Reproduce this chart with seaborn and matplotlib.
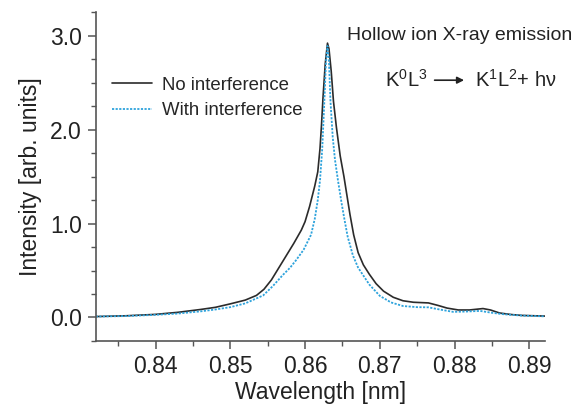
import numpy as np
import pandas as pd
import matplotlib
matplotlib.use("Agg")
import matplotlib.pyplot as plt
from matplotlib.ticker import MultipleLocator
import seaborn as sns

# spectra
wl_no = [0.832, 0.836, 0.840, 0.843, 0.846, 0.848, 0.850, 0.852, 0.8535, 0.8545,
         0.8555, 0.8565, 0.8575, 0.8585, 0.8595, 0.8600, 0.8606, 0.8613, 0.8617, 0.8620,
         0.8622, 0.8624, 0.8627, 0.8630, 0.8632, 0.8635, 0.8638, 0.8642, 0.8647, 0.8652,
         0.8656, 0.8660, 0.8665, 0.8671, 0.8678, 0.8686, 0.8695, 0.8705, 0.8718, 0.8731,
         0.8745, 0.8765, 0.8778, 0.8790, 0.8805, 0.8820, 0.8838, 0.8848, 0.8860, 0.8875,
         0.8890, 0.8921]
int_no = [0.010, 0.018, 0.033, 0.055, 0.085, 0.108, 0.145, 0.185, 0.235, 0.300,
          0.400, 0.530, 0.660, 0.790, 0.930, 1.020, 1.180, 1.400, 1.550, 1.800,
          2.050, 2.340, 2.700, 2.920, 2.860, 2.620, 2.300, 2.020, 1.720, 1.500,
          1.300, 1.100, 0.880, 0.690, 0.560, 0.460, 0.360, 0.280, 0.215, 0.178,
          0.162, 0.155, 0.128, 0.100, 0.080, 0.080, 0.095, 0.080, 0.048, 0.032,
          0.022, 0.015]

wl_with = [0.832, 0.836, 0.840, 0.843, 0.846, 0.848, 0.850, 0.852, 0.8544, 0.8557,
           0.8570, 0.8580, 0.8588, 0.8598, 0.8608, 0.8613, 0.8617, 0.8620, 0.8623, 0.8626,
           0.8628, 0.8630, 0.8632, 0.8634, 0.8637, 0.8640, 0.8644, 0.8649, 0.8653, 0.8657,
           0.8664, 0.8671, 0.8686, 0.8700, 0.8715, 0.8731, 0.8750, 0.8765, 0.8780, 0.8798,
           0.8815, 0.8834, 0.8850, 0.8865, 0.8890, 0.8921]
int_with = [0.010, 0.015, 0.028, 0.042, 0.065, 0.085, 0.110, 0.150, 0.235, 0.335,
            0.450, 0.530, 0.610, 0.720, 0.880, 1.050, 1.250, 1.460, 1.800, 2.340,
            2.720, 2.890, 2.720, 2.300, 1.920, 1.680, 1.460, 1.210, 1.030, 0.860,
            0.660, 0.530, 0.350, 0.230, 0.160, 0.122, 0.110, 0.108, 0.085, 0.060,
            0.063, 0.070, 0.050, 0.035, 0.020, 0.012]

sns.set_style("ticks")
plt.rcParams['font.family'] = ['Liberation Sans', 'DejaVu Sans']
plt.rcParams['mathtext.fontset'] = 'custom'
plt.rcParams['mathtext.rm'] = 'Liberation Sans'

fig = plt.figure(figsize=(5.78, 4.04), dpi=100)
ax = fig.add_axes([0.1656, 0.156, 0.7774, 0.814])

axis_col = '#555555'
sns.lineplot(x=wl_no, y=int_no, ax=ax, color='#2b2b2b', lw=1.2, label='No interference')
sns.lineplot(x=wl_with, y=int_with, ax=ax, color='#2ea3dc', lw=1.3,
             linestyle=(0, (1.2, 0.8)), label='With interference')

ax.set_xlim(0.832, 0.8921)
ax.set_ylim(-0.25, 3.25)
ax.xaxis.set_major_locator(MultipleLocator(0.01))
ax.xaxis.set_minor_locator(MultipleLocator(0.005))
ax.yaxis.set_major_locator(MultipleLocator(1.0))
ax.yaxis.set_minor_locator(MultipleLocator(0.25))
ax.xaxis.set_major_formatter(plt.FuncFormatter(lambda v, p: f"{v:.2f}"))
ax.yaxis.set_major_formatter(plt.FuncFormatter(lambda v, p: f"{v:.1f}"))

for s in ['top', 'right']:
    ax.spines[s].set_visible(False)
for s in ['left', 'bottom']:
    ax.spines[s].set_color(axis_col)
    ax.spines[s].set_linewidth(1.2)
ax.tick_params(which='major', length=6, width=1.1, color=axis_col, labelsize=16.5,
               labelcolor='#222222', pad=4)
ax.tick_params(which='minor', length=3.5, width=1.0, color=axis_col)

ax.set_xlabel("Wavelength [nm]", fontsize=16.5, color='#222222', labelpad=2)
ax.set_ylabel("Intensity [arb. units]", fontsize=16.5, color='#222222', labelpad=6)

leg = ax.legend(loc='upper left', bbox_to_anchor=(0.019, 0.826), frameon=False,
                fontsize=13.4, handlelength=2.15, handletextpad=0.55, labelspacing=0.44,
                borderaxespad=0)

ax.text(0.559, 0.930, "Hollow ion X-ray emission", transform=ax.transAxes,
        fontsize=14, color='#222222', va='center', ha='left')
ax.text(0.644, 0.793, r"$\mathregular{K^0L^3}$", transform=ax.transAxes,
        fontsize=14.5, color='#222222', va='center', ha='left')
ax.annotate("", xy=(0.826, 0.793), xytext=(0.748, 0.793), xycoords='axes fraction',
            arrowprops=dict(arrowstyle='-|>', color='#222222', lw=1.2, mutation_scale=10))
ax.text(0.844, 0.793, r"$\mathregular{K^1L^2}$+ hν", transform=ax.transAxes,
        fontsize=14.5, color='#222222', va='center', ha='left')

plt.savefig("out.png", dpi=100)
